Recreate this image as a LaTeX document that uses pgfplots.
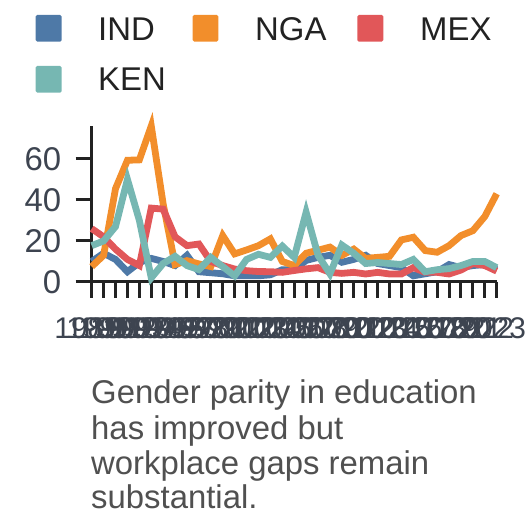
\documentclass[border=0pt]{standalone}
\usepackage{pgfplots}
\pgfplotsset{compat=1.18}
\usepackage{pgfplotstable}
\usepackage{fontspec}
\setmainfont{Liberation Sans}

\definecolor{cIND}{HTML}{4E79A7}
\definecolor{cNGA}{HTML}{F28E2B}
\definecolor{cMEX}{HTML}{E15759}
\definecolor{cKEN}{HTML}{76B7B2}
\definecolor{axisc}{HTML}{222222}
\definecolor{tickc}{HTML}{3D4450}
\definecolor{capc}{HTML}{505050}

% valeurs
\pgfplotstableread{
year IND  NGA  MEX  KEN
1989 10   7.5  26   17.7
1990 14   13   22   20
1991 11   45.5 16   27
1992 5    59.3 11   50
1993 9.5  59.5 8    30
1994 11.5 76   36   2
1995 10   38   35.5 9
1996 8    8.5  22   12.5
1997 13   10.4 17.7 8
1998 5    8.8  18.5 6
1999 4.5  7.5  10   12
2000 4    22.6 8    7.5
2001 3    13.7 6.3  3
2002 3    15.6 5.5  11
2003 3    17.7 5.1  13.5
2004 3.5  21   5    12
2005 6    10   4.7  17.5
2006 6    8    5.6  12
2007 10.5 14   6.4  34
2008 12   15.5 7    13
2009 13   17   4.7  4
2010 9.6  13   4.2  18
2011 11   16   4.7  14
2012 13   11.5 3.9  9
2013 9    12   4.7  9.5
2014 8    12.5 3.9  9
2015 7    20.5 3.9  8.5
2016 3    21.8 7    11
2017 4    15.3 4.7  5
2018 5    14.5 4.7  6
2019 8.5  17.7 3.9  6.5
2020 7    22.6 5.8  8
2021 8    25   9    10
2022 8.5  31.9 8    10
2023 6    43   5.3  7
}\gapdata

\begin{document}
\begin{tikzpicture}[x=1bp,y=1bp]
\begin{axis}[
    at={(91.7bp,246bp)}, anchor=south west,
    width=405bp, height=156bp, scale only axis,
    xmin=1989, xmax=2023,
    ymin=0, ymax=76,
    clip=false,
    axis lines=left,
    axis line style={-, line width=3bp, color=axisc},
    tick align=outside,
    major tick length=16bp,
    tick style={line width=3bp, color=axisc},
    xtick={1989,...,2023},
    ytick={0,20,40,60},
    /pgf/number format/1000 sep={},
    /pgf/number format/assume math mode=true,
    yticklabel style={font=\fontsize{33}{33}\selectfont, text=tickc, xshift=-11bp},
    xticklabel style={font=\fontsize{30}{30}\selectfont, text=tickc, yshift=-16bp, xshift=-4bp},
]
\addplot[cIND, line width=6.8bp] table[x=year, y=IND] {\gapdata};
\addplot[cNGA, line width=6.8bp] table[x=year, y=NGA] {\gapdata};
\addplot[cMEX, line width=6.8bp] table[x=year, y=MEX] {\gapdata};
\addplot[cKEN, line width=6.8bp] table[x=year, y=KEN] {\gapdata};
\end{axis}

% legende
\begin{scope}[font=\fontsize{33}{33}\selectfont, text=axisc]
\fill[cIND, rounded corners=1.5bp] (35.7,486.3) rectangle (61.7,513);
\node[anchor=base west, inner sep=0] at (98,487.3) {IND};
\fill[cNGA, rounded corners=1.5bp] (192.7,486.3) rectangle (218.3,513);
\node[anchor=base west, inner sep=0] at (255,487.3) {NGA};
\fill[cMEX, rounded corners=1.5bp] (357.3,486.3) rectangle (383.3,513);
\node[anchor=base west, inner sep=0] at (420,487.3) {MEX};
\fill[cKEN, rounded corners=1.5bp] (35.7,435.3) rectangle (61.7,462);
\node[anchor=base west, inner sep=0] at (98,437.3) {KEN};
\end{scope}

% texte sous le graphique
\begin{scope}[font=\fontsize{33}{33}\selectfont, text=capc]
\node[anchor=base west, inner sep=0] at (91,124) {Gender parity in education};
\node[anchor=base west, inner sep=0] at (91,88) {has improved but};
\node[anchor=base west, inner sep=0] at (91,53) {workplace gaps remain};
\node[anchor=base west, inner sep=0] at (91,19) {substantial.};
\end{scope}

\pgfresetboundingbox
\path[use as bounding box] (0,0) rectangle (528,528);
\end{tikzpicture}
\end{document}
